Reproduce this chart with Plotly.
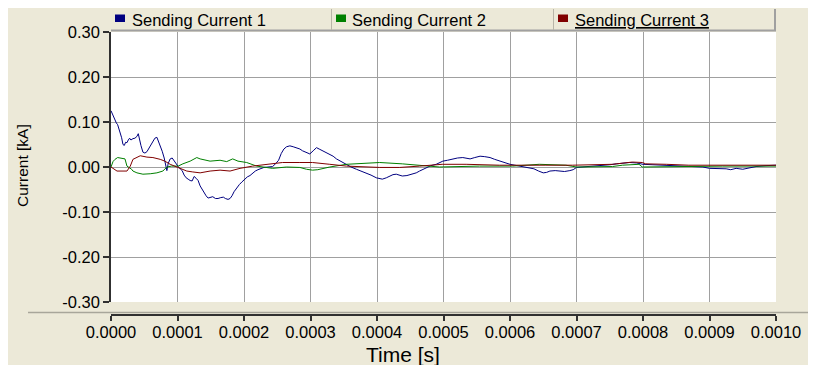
import plotly.graph_objects as go

# ---------------- data (time in microseconds, current in kA) ----------------
series_names = ["Sending Current 1", "Sending Current 2", "Sending Current 3"]
series_colors = ["#000080", "#008000", "#800000"]

t1_us = [0, 2, 4, 6, 8, 10, 12, 14, 16, 18, 20, 22, 24, 26, 28, 30, 33, 36, 39, 41,
         43, 45, 48, 51, 54, 57, 60, 63, 66, 69, 71, 74, 77, 80, 82, 84, 86, 89, 92, 95,
         98, 101, 104, 107, 110, 113, 116, 119, 122, 125, 128, 131, 134, 137, 140, 143, 146, 150, 153, 157,
         161, 165, 169, 172, 176, 179, 182, 185, 189, 193, 197, 201, 205, 209, 213, 217, 221, 225, 230, 236,
         243, 248, 252, 256, 260, 264, 269, 274, 279, 284, 288, 293, 299, 304, 309, 313, 318, 323, 329, 334,
         339, 346, 354, 361, 369, 376, 384, 391, 399, 408, 414, 419, 424, 429, 434, 438, 445, 453, 459, 464,
         469, 474, 481, 489, 494, 499, 506, 514, 521, 529, 534, 540, 547, 555, 562, 570, 577, 585, 592, 600,
         607, 615, 622, 630, 636, 643, 650, 655, 660, 668, 675, 682, 690, 695, 700, 710, 720, 735, 750, 760,
         770, 780, 790, 800, 815, 835, 855, 875, 890, 900, 915, 925, 932, 940, 950, 958, 970, 985, 1000]
i1_ka = [0.125, 0.118, 0.110, 0.104, 0.098, 0.094, 0.085, 0.075, 0.065, 0.050, 0.048, 0.055, 0.054, 0.060, 0.064, 0.060, 0.063, 0.064, 0.068, 0.074,
         0.060, 0.048, 0.033, 0.031, 0.034, 0.042, 0.050, 0.058, 0.064, 0.066, 0.058, 0.050, 0.035, 0.020, 0.008, -0.008, 0.008, 0.018, 0.020, 0.013,
         0.008, 0.001, -0.004, -0.008, -0.018, -0.024, -0.027, -0.030, -0.031, -0.021, -0.025, -0.030, -0.042, -0.050, -0.058, -0.064, -0.069, -0.068, -0.066, -0.070,
         -0.070, -0.068, -0.067, -0.070, -0.072, -0.070, -0.064, -0.055, -0.046, -0.039, -0.033, -0.027, -0.022, -0.019, -0.013, -0.009, -0.006, -0.004, -0.001, 0.000,
         0.001, 0.008, 0.015, 0.030, 0.040, 0.045, 0.047, 0.045, 0.043, 0.040, 0.036, 0.032, 0.029, 0.036, 0.043, 0.040, 0.036, 0.033, 0.029, 0.024,
         0.018, 0.012, 0.006, 0.000, -0.005, -0.009, -0.013, -0.018, -0.024, -0.027, -0.024, -0.020, -0.017, -0.016, -0.018, -0.020, -0.019, -0.016, -0.013, -0.009,
         -0.005, -0.001, 0.003, 0.006, 0.010, 0.013, 0.015, 0.018, 0.020, 0.021, 0.020, 0.018, 0.021, 0.024, 0.023, 0.021, 0.017, 0.013, 0.010, 0.006,
         0.004, 0.002, 0.001, -0.001, -0.004, -0.009, -0.013, -0.012, -0.009, -0.008, -0.009, -0.010, -0.008, -0.006, -0.001, 0.000, 0.001, 0.003, 0.005, 0.007,
         0.009, 0.010, 0.009, 0.006, 0.005, 0.004, 0.003, 0.002, 0.000, -0.003, -0.003, -0.004, -0.006, -0.003, -0.005, -0.002, 0.001, 0.003, 0.004]

t2_us = [0, 3, 6, 10, 21, 24, 31, 33, 39, 48, 59, 69, 78, 84, 91, 101, 108, 119, 129, 134,
         149, 164, 174, 183, 191, 204, 219, 228, 243, 264, 284, 294, 303, 311, 329, 354, 404, 438, 468, 494,
         554, 604, 644, 684, 700, 754, 769, 794, 799, 850, 920, 1000]
i2_ka = [0.000, 0.012, 0.017, 0.021, 0.018, 0.002, -0.005, -0.009, -0.013, -0.016, -0.015, -0.013, -0.009, 0.000, 0.002, 0.002, 0.007, 0.013, 0.021, 0.018,
         0.013, 0.015, 0.012, 0.018, 0.013, 0.010, 0.002, 0.000, -0.003, 0.000, -0.001, -0.005, -0.007, -0.006, 0.000, 0.006, 0.010, 0.007, 0.004, 0.000,
         0.002, 0.002, 0.006, 0.004, 0.000, 0.001, 0.004, 0.006, 0.000, 0.001, 0.002, 0.002]

t3_us = [0, 9, 24, 29, 33, 44, 54, 63, 74, 81, 89, 99, 114, 123, 134, 149, 164, 179, 194, 213,
         234, 258, 284, 303, 329, 354, 404, 434, 464, 498, 534, 584, 654, 694, 754, 784, 799, 804, 835, 869,
         1000]
i3_ka = [0.000, -0.009, -0.009, 0.002, 0.017, 0.025, 0.022, 0.021, 0.017, 0.013, 0.006, 0.000, -0.009, -0.011, -0.013, -0.009, -0.007, -0.009, -0.003, 0.002,
         0.006, 0.010, 0.010, 0.010, 0.006, 0.002, -0.001, -0.001, 0.002, 0.006, 0.006, 0.004, 0.004, 0.004, 0.006, 0.011, 0.010, 0.007, 0.006, 0.004,
         0.004]

x_tick_vals = [0.0000, 0.0001, 0.0002, 0.0003, 0.0004, 0.0005, 0.0006, 0.0007, 0.0008, 0.0009, 0.0010]
x_tick_text = ["0.0000", "0.0001", "0.0002", "0.0003", "0.0004", "0.0005",
               "0.0006", "0.0007", "0.0008", "0.0009", "0.0010"]
y_tick_vals = [-0.30, -0.20, -0.10, 0.00, 0.10, 0.20, 0.30]
y_tick_text = ["-0.30", "-0.20", "-0.10", "0.00", "0.10", "0.20", "0.30"]

x_title = "Time [s]"
y_title = "Current [kA]"

# ---------------- layout geometry (page pixels) ----------------
PAGE_W, PAGE_H = 816, 365
OFF = 8                                 # default page body margin
FIG_W, FIG_H = PAGE_W - OFF, PAGE_H - OFF
L, R, T, B = 111, 776, 32, 315          # plot box in page pixels (x axis line at B)
PLOT_BOTTOM = 302                       # page y pixel of the -0.30 gridline
FONT = "Liberation Sans, Arial, sans-serif"
BEIGE = "#ECE9D8"


def px(xp):
    return (xp - L) / (R - L)


def py(yp):
    return (B - yp) / (B - T)


fig = go.Figure()
for ts, vs, name, col in zip([t1_us, t2_us, t3_us], [i1_ka, i2_ka, i3_ka], series_names, series_colors):
    fig.add_trace(go.Scatter(
        x=[t * 1e-6 for t in ts], y=vs, mode="lines", name=name,
        line=dict(color=col, width=1), showlegend=False, hoverinfo="skip"))

shapes = []
# groove between plot panel and axis panel
shapes.append(dict(type="line", xref="paper", yref="paper", x0=px(28), x1=px(PAGE_W), y0=py(312.5), y1=py(312.5),
                   line=dict(color="#A8A69A", width=1.5)))
# legend bar
shapes.append(dict(type="rect", xref="paper", yref="paper", x0=px(L), x1=px(R), y0=py(31), y1=py(9),
                   fillcolor=BEIGE, line=dict(width=0)))
shapes.append(dict(type="line", xref="paper", yref="paper", x0=px(L), x1=px(R), y0=py(30.5), y1=py(30.5),
                   line=dict(color="#A0A0A0", width=2)))
shapes.append(dict(type="line", xref="paper", yref="paper", x0=px(R - 1), x1=px(R - 1), y0=py(31), y1=py(9),
                   line=dict(color="#A0A0A0", width=2)))
cell_edges = [331.5, 553.5]
for ce in cell_edges:
    shapes.append(dict(type="line", xref="paper", yref="paper", x0=px(ce), x1=px(ce), y0=py(30), y1=py(9),
                       line=dict(color="#B8B5A8", width=1)))

annotations = []
legend_sq_x = [115, 336, 558]
legend_txt_x = [130, 350, 573]
for i, (name, col) in enumerate(zip(series_names, series_colors)):
    shapes.append(dict(type="rect", xref="paper", yref="paper",
                       x0=px(legend_sq_x[i]), x1=px(legend_sq_x[i] + 10), y0=py(22), y1=py(14.5),
                       fillcolor=col, line=dict(width=0)))
    txt = name if i < 2 else "<u>" + name + "</u>"
    annotations.append(dict(text=txt, xref="paper", yref="paper", x=px(legend_txt_x[i]), y=py(20),
                            xanchor="left", yanchor="middle", showarrow=False,
                            font=dict(family=FONT, size=16.5, color="#000000")))

annotations.append(dict(text=y_title, xref="paper", yref="paper", x=px(22), y=py(166), textangle=-90,
                        xanchor="center", yanchor="middle", showarrow=False,
                        font=dict(family=FONT, size=15.5, color="#000000")))
annotations.append(dict(text=x_title, xref="paper", yref="paper", x=px(403), y=py(354),
                        xanchor="center", yanchor="middle", showarrow=False,
                        font=dict(family=FONT, size=21, color="#000000")))

fig.update_layout(
    width=FIG_W, height=FIG_H,
    margin=dict(l=L - OFF, r=FIG_W - (R - OFF), t=T - OFF, b=FIG_H - (B - OFF), pad=0),
    paper_bgcolor=BEIGE, plot_bgcolor="white",
    font=dict(family=FONT, color="#000000"),
    showlegend=False,
    shapes=shapes, annotations=annotations,
    xaxis=dict(range=[0, 0.001], anchor="free", position=0, side="bottom",
               tickvals=x_tick_vals, ticktext=x_tick_text,
               showgrid=True, gridcolor="#A0A0A0", gridwidth=1, zeroline=False,
               showline=True, linecolor="#303030", linewidth=1.5,
               ticks="outside", ticklen=5, tickcolor="#303030", tickwidth=1.5,
               ticklabelstandoff=-3,
               tickfont=dict(family=FONT, size=16.5, color="#000000")),
    yaxis=dict(range=[-0.30, 0.30], domain=[py(PLOT_BOTTOM), 1],
               tickvals=y_tick_vals, ticktext=y_tick_text,
               showgrid=True, gridcolor="#A0A0A0", gridwidth=1, zeroline=False,
               showline=True, linecolor="#303030", linewidth=1.5,
               ticks="outside", ticklen=6, tickcolor="#303030", tickwidth=1.5,
               tickfont=dict(family=FONT, size=16.5, color="#000000")),
)

fig.write_html("out.html")
